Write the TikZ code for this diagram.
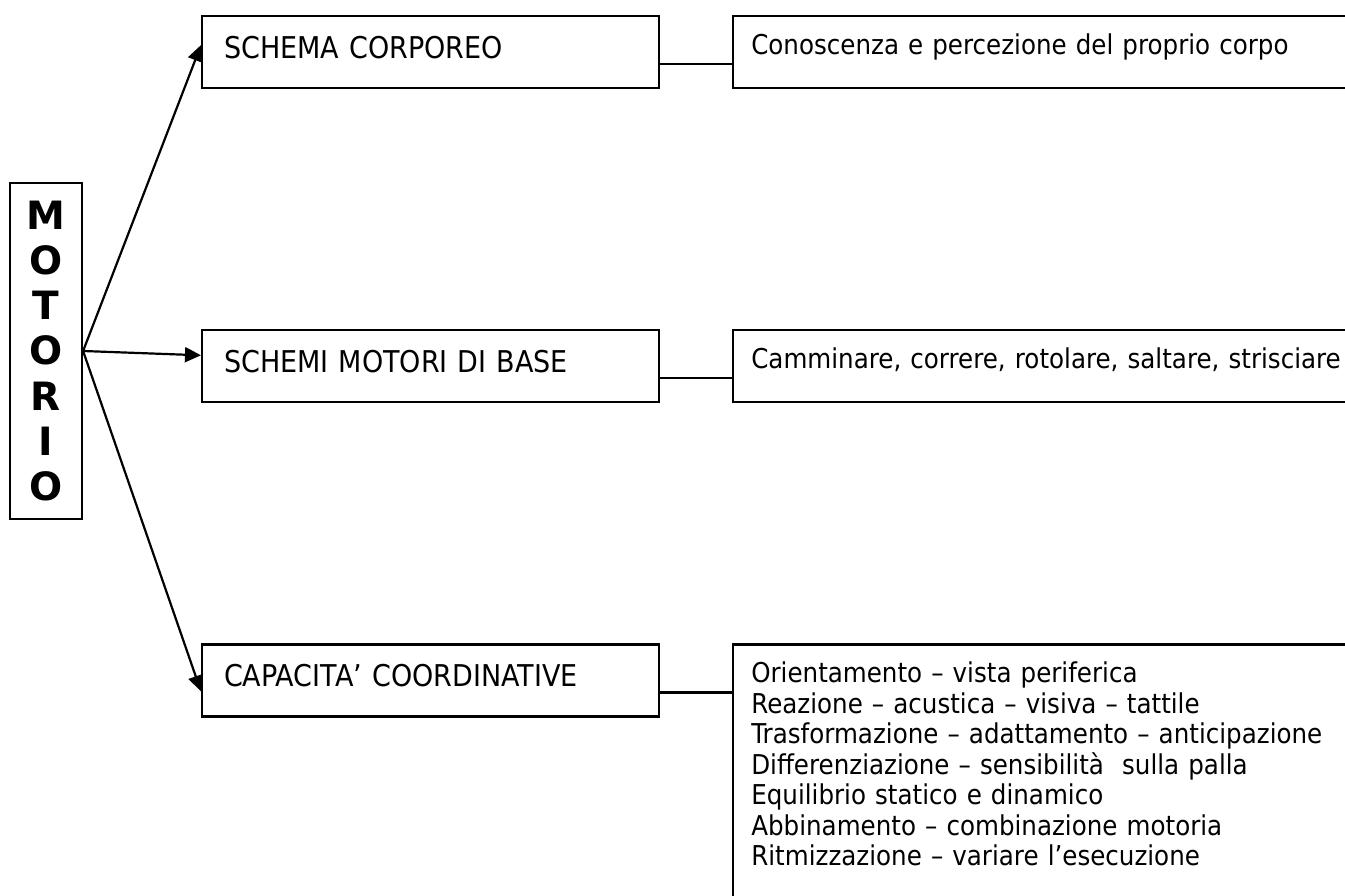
\documentclass[tikz,border=0pt]{standalone}
\usepackage{fontspec}
\setmainfont{DejaVu Sans}[FakeStretch=0.9]
\newfontfamily\motorifont{DejaVu Sans}
\usetikzlibrary{positioning,arrows.meta}

\begin{document}
\begin{tikzpicture}[x=1pt,y=-1pt]
\tikzstyle{box}=[rectangle, draw=black, line width=2.2pt, inner ysep=0pt, anchor=north west]
\tikzstyle{head}=[box, minimum width=457pt, text width=413pt, inner xsep=22pt, align=left, text height=42pt, text depth=30pt, font=\fontsize{30}{36}\selectfont]
\tikzstyle{leaf}=[box, minimum width=640pt, text width=604pt, inner xsep=18pt, align=left, text height=38pt, text depth=34pt, font=\fontsize{27.3}{30.5}\selectfont]
\tikzstyle{connect}=[-{Triangle[length=16pt,width=15pt]}, line width=2.2pt]
\tikzstyle{link}=[line width=2.2pt]
  \useasboundingbox (0,0) rectangle (1345,896);
  \node[box, anchor=center, minimum width=72pt, minimum height=336pt, align=center, font=\motorifont\fontsize{39}{45.3}\selectfont\bfseries] (motorio) at (46,351) {M\\O\\T\\O\\R\\I\\O};
  \node[head] (corporeo) at (201,15) {SCHEMA CORPOREO};
  \node[head, below=240pt of corporeo] (base) {SCHEMI MOTORI DI BASE};
  \node[head, below=240pt of base] (coord) {CAPACITA' COORDINATIVE};
  \node[leaf, right=72pt of corporeo] (corpo) {Conoscenza e percezione del proprio corpo};
  \node[leaf, right=72pt of base] (schemi) {Camminare, correre, rotolare, saltare, strisciare};
  \node[leaf, right=72pt of coord.north east, anchor=north west, text depth=233pt] (capacita) {Orientamento -- vista periferica\\
    Reazione -- acustica -- visiva -- tattile\\
    Trasformazione -- adattamento -- anticipazione\\
    Differenziazione -- sensibilità\ \ sulla palla\\
    Equilibrio statico e dinamico\\
    Abbinamento -- combinazione motoria\\
    Ritmizzazione -- variare l'esecuzione};

  \draw[connect] (motorio.east) -- ([yshift=7pt]corporeo.west);
  \draw[connect] (motorio.east) -- ([yshift=11pt]base.west);
  \draw[connect] (motorio.east) -- ([yshift=-11pt]coord.west);
  \draw[link] ([yshift=-12pt]corporeo.east) -- ([yshift=-12pt]corporeo.east -| corpo.west);
  \draw[link] ([yshift=-12pt]base.east) -- ([yshift=-12pt]base.east -| schemi.west);
  \draw[link] ([yshift=-12pt]coord.east) -- ([yshift=-12pt]coord.east -| capacita.west);
\end{tikzpicture}
\end{document}
